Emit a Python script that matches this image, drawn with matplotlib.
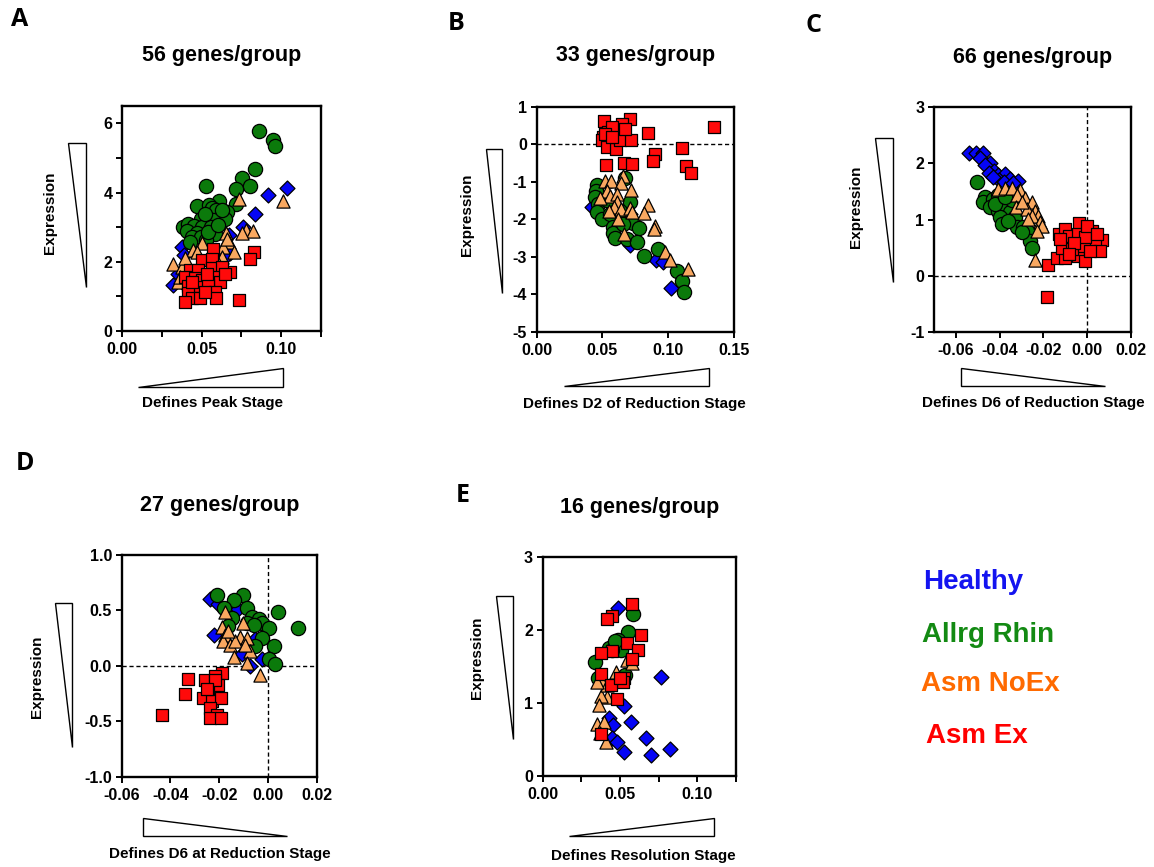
import matplotlib
matplotlib.use("Agg")
import matplotlib.pyplot as plt
from matplotlib.patches import Polygon
from matplotlib.ticker import FormatStrFormatter

plt.rcParams['font.family'] = ['Liberation Sans', 'DejaVu Sans']
plt.rcParams['font.weight'] = 'bold'
plt.rcParams['axes.unicode_minus'] = False

W, H = 1154, 867

# ---- Panel A: peak stage ----
a_healthy_x = [0.1036, 0.0916, 0.0836, 0.0763, 0.0377, 0.0392, 0.0323, 0.0354, 0.0669, 0.0679, 0.0648, 0.0375]
a_healthy_y = [4.13, 3.94, 3.38, 3.01, 2.43, 2.19, 1.33, 1.66, 2.77, 2.24, 2.14, 1.42]
a_allrg_x = [0.0862, 0.0950, 0.0962, 0.0836, 0.0753, 0.0801, 0.0715, 0.0528, 0.0612, 0.0717, 0.0472, 0.0547,
             0.0568, 0.0591, 0.0660, 0.0648, 0.0497, 0.0574, 0.0384, 0.0417, 0.0455, 0.0505, 0.0558, 0.0407,
             0.0470, 0.0585, 0.0442, 0.0497, 0.0528, 0.0428, 0.0539, 0.0606, 0.0522, 0.0627]
a_allrg_y = [5.77, 5.53, 5.34, 4.69, 4.43, 4.20, 4.09, 4.18, 3.75, 3.66, 3.61, 3.63,
             3.56, 3.49, 3.44, 3.25, 3.23, 3.20, 3.01, 3.10, 3.03, 3.01, 3.01, 2.88,
             2.84, 2.79, 2.72, 2.72, 2.63, 2.58, 2.87, 3.06, 3.39, 3.49]
a_noex_x = [0.0738, 0.1010, 0.0778, 0.0822, 0.0753, 0.0654, 0.0669, 0.0704, 0.0637, 0.0505, 0.0444, 0.0323,
            0.0375, 0.0354, 0.0627, 0.0396, 0.0658, 0.0585, 0.0365, 0.0470]
a_noex_y = [3.81, 3.75, 2.93, 2.88, 2.82, 2.82, 2.58, 2.29, 2.43, 2.53, 2.34, 1.93,
            1.86, 1.42, 2.14, 2.10, 2.67, 2.14, 1.57, 2.29]
a_ex_x = [0.0570, 0.0828, 0.0805, 0.0732, 0.0679, 0.0505, 0.0564, 0.0430, 0.0480, 0.0564, 0.0627, 0.0396,
          0.0459, 0.0505, 0.0585, 0.0616, 0.0413, 0.0480, 0.0543, 0.0585, 0.0417, 0.0442, 0.0396, 0.0491,
          0.0591, 0.0522, 0.0438, 0.0648, 0.0533]
a_ex_y = [2.38, 2.29, 2.07, 0.89, 1.71, 2.05, 2.07, 1.76, 1.76, 1.81, 1.86, 1.57,
          1.52, 1.47, 1.57, 1.42, 1.30, 1.28, 1.33, 1.13, 1.09, 0.94, 0.85, 0.94,
          0.94, 1.13, 1.42, 1.66, 1.66]

# ---- Panel B: D2 of reduction stage ----
b_healthy_x = [0.1018, 0.0907, 0.0963, 0.0418, 0.0709, 0.0570, 0.0709]
b_healthy_y = [-3.83, -3.08, -3.13, -1.68, -2.70, -2.08, -1.86]
b_allrg_x = [0.0671, 0.0456, 0.0451, 0.0443, 0.0469, 0.0456, 0.0494, 0.0557, 0.0709, 0.0735, 0.0780, 0.0583,
             0.0583, 0.0595, 0.0684, 0.0765, 0.0818, 0.0920, 0.1064, 0.1105, 0.1117, 0.0633, 0.0532, 0.0659]
b_allrg_y = [-0.91, -1.10, -1.24, -1.42, -1.59, -1.81, -1.99, -1.86, -1.55, -2.11, -2.23, -2.20,
             -2.36, -2.50, -2.52, -2.61, -2.97, -2.79, -3.37, -3.66, -3.93, -1.77, -1.50, -2.12]
b_noex_x = [0.0520, 0.0565, 0.0654, 0.0638, 0.0714, 0.0532, 0.0557, 0.0608, 0.0481, 0.0613, 0.0590, 0.0638,
            0.0709, 0.0722, 0.0849, 0.0818, 0.0621, 0.0552, 0.0899, 0.0892, 0.0666, 0.0975, 0.1013, 0.1148]
b_noex_y = [-0.97, -0.97, -0.86, -1.03, -1.22, -1.24, -1.37, -1.32, -1.44, -1.55, -1.68, -1.72,
            -1.70, -1.81, -1.62, -1.84, -1.99, -1.77, -2.17, -2.26, -2.39, -2.87, -3.10, -3.32]
b_ex_x = [0.0512, 0.0709, 0.0646, 0.0608, 0.0545, 0.0507, 0.0494, 0.0537, 0.0603, 0.0633, 0.0717, 0.0671,
          0.0570, 0.0849, 0.1345, 0.0899, 0.0882, 0.1107, 0.1133, 0.1173, 0.0530, 0.0666, 0.0727, 0.0519, 0.0570]
b_ex_y = [0.63, 0.66, 0.54, 0.32, 0.32, 0.19, 0.12, -0.08, -0.14, 0.10, 0.12, 0.41,
          0.45, 0.29, 0.45, -0.26, -0.45, -0.10, -0.59, -0.76, -0.55, -0.51, -0.52, 0.28, 0.19]

# ---- Panel C: D6 of reduction stage ----
c_healthy_x = [-0.0541, -0.0506, -0.0475, -0.0490, -0.0444, -0.0467, -0.0424, -0.0449, -0.0406, -0.0375,
               -0.0352, -0.0404, -0.0314, -0.0429, -0.0378, -0.0337]
c_healthy_y = [2.18, 2.19, 2.18, 2.09, 2.01, 1.97, 1.87, 1.82, 1.79, 1.81, 1.73, 1.70, 1.68, 1.76, 1.67, 1.65]
c_allrg_x = [-0.0505, -0.0467, -0.0478, -0.0429, -0.0406, -0.0444, -0.0406, -0.0375, -0.0352, -0.0398, -0.0329,
             -0.0390, -0.0322, -0.0291, -0.0268, -0.0260, -0.0253, -0.0345, -0.0421, -0.0360, -0.0299, -0.0375]
c_allrg_y = [1.66, 1.40, 1.32, 1.37, 1.43, 1.22, 1.16, 1.25, 1.13, 1.04, 1.04,
             0.92, 0.86, 0.87, 0.78, 0.62, 0.50, 1.34, 1.28, 0.98, 0.77, 1.40]
c_noex_x = [-0.0406, -0.0375, -0.0342, -0.0306, -0.0322, -0.0283, -0.0253, -0.0326, -0.0276, -0.0240, -0.0222,
            -0.0253, -0.0214, -0.0207, -0.0230, -0.0237, -0.0299, -0.0268]
c_noex_y = [1.55, 1.57, 1.57, 1.53, 1.43, 1.38, 1.31, 1.23, 1.19, 1.16, 1.07, 1.07, 0.95, 0.89, 0.80, 0.27, 1.31, 1.01]
c_ex_x = [-0.0181, -0.0179, -0.0138, -0.0100, -0.0041, -0.0008, -0.0130, -0.0100, -0.0035, -0.0084, -0.0041,
          0.0023, 0.0069, 0.0035, 0.0061, -0.0115, -0.0069, -0.0015, 0.0015, -0.0123, -0.0008, -0.0061,
          -0.0084, 0.0000, 0.0046]
c_ex_y = [-0.39, 0.19, 0.32, 0.32, 0.35, 0.26, 0.74, 0.83, 0.93, 0.71, 0.74, 0.79, 0.63, 0.59, 0.44, 0.50,
          0.47, 0.53, 0.44, 0.65, 0.68, 0.59, 0.38, 0.89, 0.74]

# ---- Panel D: D6 at reduction stage ----
d_healthy_x = [-0.0237, -0.0203, -0.0121, -0.0223, -0.0025, -0.0073, -0.0107, -0.0052]
d_healthy_y = [0.60, 0.56, 0.51, 0.28, 0.06, 0.00, 0.11, 0.24]
d_allrg_x = [-0.0210, -0.0103, -0.0141, -0.0182, -0.0084, 0.0040, -0.0066, -0.0038, -0.0025, 0.0005, 0.0123,
             -0.0148, -0.0025, 0.0025, -0.0052, 0.0005, 0.0027, -0.0086, -0.0059, -0.0162]
d_allrg_y = [0.64, 0.64, 0.59, 0.52, 0.52, 0.49, 0.44, 0.42, 0.39, 0.34, 0.34, 0.43, 0.25, 0.18, 0.18, 0.06,
             0.02, 0.39, 0.37, 0.36]
d_noex_x = [-0.0175, -0.0189, -0.0103, -0.0175, -0.0115, -0.0086, -0.0186, -0.0155, -0.0134, -0.0073, -0.0141,
            -0.0086, -0.0032, -0.0162, -0.0093]
d_noex_y = [0.49, 0.35, 0.39, 0.28, 0.26, 0.25, 0.22, 0.19, 0.22, 0.13, 0.08, 0.03, -0.08, 0.31, 0.19]
d_ex_x = [-0.0436, -0.0329, -0.0342, -0.0258, -0.0189, -0.0216, -0.0203, -0.0244, -0.0268, -0.0230, -0.0192,
          -0.0237, -0.0207, -0.0237, -0.0192, -0.0216, -0.0252]
d_ex_y = [-0.44, -0.12, -0.25, -0.13, -0.06, -0.09, -0.17, -0.23, -0.29, -0.32, -0.29, -0.38, -0.44, -0.47,
          -0.47, -0.13, -0.21]

# ---- Panel E: resolution stage ----
e_healthy_x = [0.0489, 0.0767, 0.0528, 0.0430, 0.0452, 0.0574, 0.0446, 0.0478, 0.0670, 0.0528, 0.0702, 0.0822]
e_healthy_y = [2.31, 1.36, 0.96, 0.79, 0.70, 0.74, 0.52, 0.47, 0.52, 0.33, 0.29, 0.37]
e_allrg_x = [0.0583, 0.0550, 0.0485, 0.0430, 0.0507, 0.0341, 0.0359, 0.0533, 0.0446, 0.0467]
e_allrg_y = [2.22, 1.97, 1.87, 1.75, 1.73, 1.56, 1.35, 1.39, 1.73, 1.85]
e_noex_x = [0.0543, 0.0580, 0.0472, 0.0380, 0.0413, 0.0380, 0.0363, 0.0348, 0.0398, 0.0370, 0.0409, 0.0417,
            0.0496, 0.0348]
e_noex_y = [1.59, 1.55, 1.43, 1.32, 1.09, 1.10, 0.97, 0.71, 0.74, 0.59, 0.47, 1.25, 1.32, 1.29]
e_ex_x = [0.0580, 0.0446, 0.0413, 0.0637, 0.0548, 0.0615, 0.0446, 0.0374, 0.0580, 0.0380, 0.0526, 0.0517,
          0.0439, 0.0478, 0.0380, 0.0500]
e_ex_y = [2.36, 2.19, 2.15, 1.93, 1.82, 1.73, 1.71, 1.69, 1.60, 1.40, 1.34, 1.29, 1.25, 1.05, 0.58, 1.34]

group_names = ['Healthy', 'Allrg Rhin', 'Asm NoEx', 'Asm Ex']
marker_colors = ['#0505f5', '#0b7a0b', '#f9a860', '#ff0a0a']
text_colors = ['#1414f0', '#138a13', '#ff6a00', '#ff0000']
markers = ['D', 'o', '^', 's']
sizes = [58, 105, 90, 80]
titles = ['56 genes/group', '33 genes/group', '66 genes/group', '27 genes/group', '16 genes/group']
xlabels = ['Defines Peak Stage', 'Defines D2 of Reduction Stage', 'Defines D6 of Reduction Stage',
           'Defines D6 at Reduction Stage', 'Defines Resolution Stage']


def fx(x):
    return x / W


def fy(y):
    return 1 - y / H


def add_triangle(fig, pts):
    poly = Polygon([(fx(x), fy(y)) for x, y in pts], closed=True, transform=fig.transFigure,
                   facecolor='white', edgecolor='black', linewidth=1.0)
    fig.patches.append(poly)


def draw_panel(fig, box, groups, letter, title, xlabel, letter_xy, title_y, ylab_xy, xlab_xy, ytri, xtri):
    left, top, right, bottom = box
    ax = fig.add_axes([fx(left), fy(bottom), (right - left) / W, (bottom - top) / H])
    # order: healthy, allrg, noex, ex (ex on top)
    for i, (xs, ys) in enumerate(groups):
        ax.scatter(xs, ys, marker=markers[i], s=sizes[i], c=marker_colors[i], edgecolors='black',
                   linewidths=0.9, zorder=3 + i, clip_on=False)
    for sp in ax.spines.values():
        sp.set_linewidth(1.7)
    ax.tick_params(direction='out', length=4, width=1.4, labelsize=11.5, pad=3)
    ax.tick_params(axis='x', pad=4)
    ax.tick_params(which='minor', direction='out', length=4, width=1.4)
    for lab in ax.get_xticklabels() + ax.get_yticklabels():
        lab.set_fontweight('bold')
    fig.text(fx(letter_xy[0]), fy(letter_xy[1]), letter, fontsize=18, fontweight='bold',
             family=['Open Sans', 'DejaVu Sans'], ha='center', va='center')
    fig.text(fx((left + right) / 2), fy(title_y), title, fontsize=15.5, fontweight='bold',
             ha='center', va='center')
    fig.text(fx(ylab_xy[0]), fy(ylab_xy[1]), 'Expression', fontsize=11, fontweight='bold',
             rotation=90, ha='center', va='center')
    fig.text(fx(xlab_xy[0]), fy(xlab_xy[1]), xlabel, fontsize=11, fontweight='bold',
             ha='center', va='center')
    add_triangle(fig, ytri)
    add_triangle(fig, xtri)
    return ax


fig = plt.figure(figsize=(W / 100, H / 100), dpi=100)

# A
ax = draw_panel(fig, (122, 106, 321, 331),
                [(a_healthy_x, a_healthy_y), (a_allrg_x, a_allrg_y), (a_noex_x, a_noex_y), (a_ex_x, a_ex_y)],
                'A', titles[0], xlabels[0], (20, 20), 55, (50, 213), (212, 403),
                [(68, 143), (86, 143), (86, 287)], [(138, 387), (283, 387), (283, 368)])
ax.set_xlim(0, 0.125)
ax.set_ylim(0, 6.5)
ax.set_xticks([0, 0.05, 0.10])
ax.set_xticks([0.025, 0.075, 0.125], minor=True)
ax.set_yticks([0, 2, 4, 6])
ax.set_yticks([1, 3, 5], minor=True)
ax.xaxis.set_major_formatter(FormatStrFormatter('%.2f'))

# B
ax = draw_panel(fig, (536.7, 106.7, 734, 331.7),
                [(b_healthy_x, b_healthy_y), (b_allrg_x, b_allrg_y), (b_noex_x, b_noex_y), (b_ex_x, b_ex_y)],
                'B', titles[1], xlabels[1], (456, 23), 55, (466.7, 215), (634, 404),
                [(485.7, 149), (502, 149), (502, 293)], [(564, 386), (709, 386), (709, 368)])
ax.set_xlim(0, 0.15)
ax.set_ylim(-5, 1)
ax.set_xticks([0, 0.05, 0.10, 0.15])
ax.set_yticks([-5, -4, -3, -2, -1, 0, 1])
ax.xaxis.set_major_formatter(FormatStrFormatter('%.2f'))
ax.axhline(0, color='black', linestyle=(0, (3, 2)), linewidth=1.0, zorder=2)

# C
ax = draw_panel(fig, (934, 107.3, 1130.7, 331.7),
                [(c_healthy_x, c_healthy_y), (c_allrg_x, c_allrg_y), (c_noex_x, c_noex_y), (c_ex_x, c_ex_y)],
                'C', titles[2], xlabels[2], (813, 26), 57, (856, 207), (1033, 403),
                [(875, 138), (892.7, 138), (892.7, 282)], [(961, 368), (961, 386), (1105, 386)])
ax.set_xlim(-0.07, 0.02)
ax.set_ylim(-1, 3)
ax.set_xticks([-0.06, -0.04, -0.02, 0.00, 0.02])
ax.set_yticks([-1, 0, 1, 2, 3])
ax.xaxis.set_major_formatter(FormatStrFormatter('%.2f'))
ax.axhline(0, color='black', linestyle=(0, (3, 2)), linewidth=1.0, zorder=2)
ax.axvline(0, color='black', linestyle=(0, (3, 2)), linewidth=1.0, zorder=2)

# D
ax = draw_panel(fig, (121.7, 555, 316.7, 776.7),
                [(d_healthy_x, d_healthy_y), (d_allrg_x, d_allrg_y), (d_noex_x, d_noex_y), (d_ex_x, d_ex_y)],
                'D', titles[3], xlabels[3], (25, 463), 505, (36.7, 676.7), (220, 854),
                [(55, 603), (71.7, 603), (71.7, 746.7)], [(143, 818), (143, 835.7), (287, 835.7)])
ax.set_xlim(-0.06, 0.02)
ax.set_ylim(-1, 1)
ax.set_xticks([-0.06, -0.04, -0.02, 0.00, 0.02])
ax.set_yticks([-1.0, -0.5, 0.0, 0.5, 1.0])
ax.xaxis.set_major_formatter(FormatStrFormatter('%.2f'))
ax.yaxis.set_major_formatter(FormatStrFormatter('%.1f'))
ax.axhline(0, color='black', linestyle=(0, (3, 2)), linewidth=1.0, zorder=2)
ax.axvline(0, color='black', linestyle=(0, (3, 2)), linewidth=1.0, zorder=2)

# E
ax = draw_panel(fig, (542.7, 557.3, 736, 776),
                [(e_healthy_x, e_healthy_y), (e_allrg_x, e_allrg_y), (e_noex_x, e_noex_y), (e_ex_x, e_ex_y)],
                'E', titles[4], xlabels[4], (463, 496), 508, (477.3, 658), (643, 856),
                [(496, 596), (513.3, 596), (513.3, 739.3)], [(569.3, 835.7), (714, 835.7), (714, 818.3)])
ax.set_xlim(0, 0.125)
ax.set_ylim(0, 3)
ax.set_xticks([0, 0.05, 0.10])
ax.set_xticks([0.025, 0.075, 0.125], minor=True)
ax.set_yticks([0, 1, 2, 3])
ax.xaxis.set_major_formatter(FormatStrFormatter('%.2f'))

# group legend as coloured text
legend_pos = [(923, 582), (921.5, 635), (921, 684), (926.5, 736)]
for name, col, (x, y) in zip(group_names, text_colors, legend_pos):
    fig.text(fx(x), fy(y), name, color=col, fontsize=20, fontweight='bold', ha='left', va='center')

fig.savefig('out.png', dpi=100)
